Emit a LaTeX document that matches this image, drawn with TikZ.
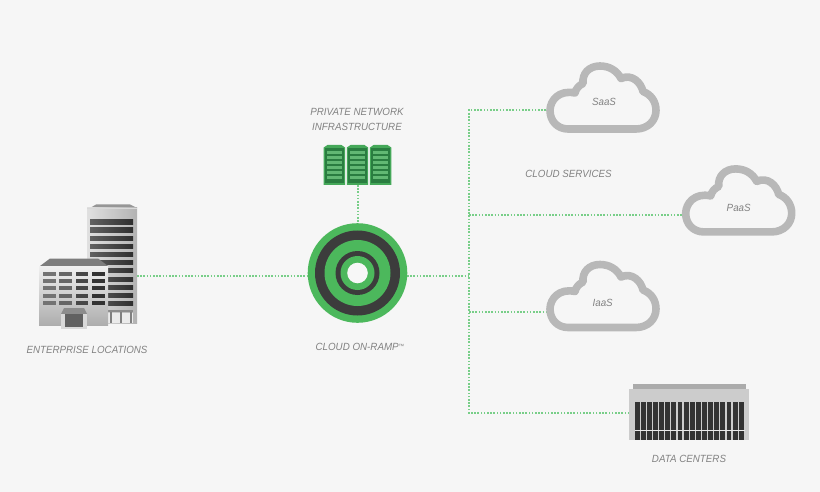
\documentclass[tikz,border=0pt]{standalone}
\usepackage{fontspec}
\setmainfont[FakeStretch=0.94]{Liberation Sans}
\definecolor{bgc}{HTML}{F6F6F6}
\definecolor{lnk}{HTML}{78CE88}
\definecolor{txt}{HTML}{828282}
\definecolor{ringg}{HTML}{4CB85C}
\definecolor{ringd}{HTML}{3C3C3C}
\definecolor{cloudc}{HTML}{B8B8B8}
\definecolor{rackd}{HTML}{2A7D40}
\definecolor{rackm}{HTML}{45A859}
\definecolor{rackl}{HTML}{62B873}
\tikzset{
  x=1pt,y=-1pt,
  lbl/.style={font=\fontsize{10.4}{12}\selectfont\itshape,text=txt,inner sep=0pt,align=center},
  hit/.style={inner sep=0pt,outer sep=0pt,minimum width=#1,minimum height=8pt},
  link/.style={draw=lnk,line width=2pt,dash pattern=on 1.6pt off 1.6pt},
  cloudline/.style={draw=cloudc,line width=7.6pt,line join=round},
  pics/cloudicon/.style={code={
    \draw[cloudline] (-35,31.5) -- (33,31.5)
      .. controls (45,31.5) and (53,23) .. (53,13)
      .. controls (53,4) and (48,-3) .. (40,-6)
      .. controls (38,-15) and (29,-24) .. (18,-19)
      .. controls (14,-27) and (6,-31.5) .. (-3,-31.5)
      .. controls (-14,-31.5) and (-21,-24) .. (-20,-14)
      .. controls (-24,-12) and (-27,-9) .. (-28,-4.5)
      .. controls (-44,-8) and (-53,3) .. (-53,13)
      .. controls (-53,24) and (-45,31.5) .. (-35,31.5) -- cycle;
  }},
  pics/rack/.style={code={
    \fill[rackm] (-10.7,-17.5) -- (-7,-20) -- (7,-20) -- (10.7,-17.5) -- (10.7,20) -- (-10.7,20) -- cycle;
    \fill[rackd] (-9.2,-16.5) rectangle (9.2,18.5);
    \foreach \r in {-13.5,-8.5,-3.5,1.5,6.5,11.5}
      \fill[rackl] (-7.6,\r) rectangle (7.6,\r+3);
  }}
}
\begin{document}
\begin{tikzpicture}
\useasboundingbox (0,0) rectangle (820,492);
\fill[bgc] (0,0) rectangle (820,492);

% anchors for the icons
\node[hit=100pt] (building) at (87,276) {};
\node[hit=62pt] (servers) at (357.5,165) {};
\node[hit=99.6pt,minimum height=99.6pt,circle] (hub) at (357.5,273) {};
\coordinate (hubeast) at (407,276);
\coordinate (hubwest) at (308,276);
\coordinate (hubtop) at (358.3,223);
\coordinate (serverbottom) at (358.3,185);
\coordinate (buildingeast) at (137,276);
\coordinate (bus) at (469,276);
\node[hit=114pt] (saas) at (603,110) {};
\node[hit=114pt] (paas) at (738.7,215) {};
\node[hit=114pt] (iaas) at (603,311.7) {};
\node[hit=120pt] (dc) at (689.3,413) {};

% connectors
\path[link] (buildingeast) -- (hubwest);
\path[link] (serverbottom) -- (hubtop);
\path[link] (hubeast) -- (bus);
\path[link] (saas.west) -| (bus);
\path[link] (dc.west) -| (bus);
\path[link] (bus |- paas.west) -- (paas.west);
\path[link] (bus |- iaas.west) -- (iaas.west);

% building: tower
\fill[fill={rgb,255:red,150;green,150;blue,150}] (90,208) -- (96,204.5) -- (130,204.5) -- (137,208) -- cycle;
\shade[left color=black!12,right color=black!30] (87,208) rectangle (137,323);
\draw[white!85!black,line width=.8pt] (87,208.5) -- (137,208.5);
\foreach \r in {220,228,236,244,252,260.5,268.5,277,285,293,301}
  \shade[left color=black!62,right color=black!82] (90,\r) rectangle (133,\r+4.4);
\fill[white!92!black] (108,313) rectangle (133,323);
\foreach \c in {111,121,131}
  \fill[black!50] (\c-.7,311) rectangle (\c+.7,323);
\fill[black!45] (108,310) rectangle (133,311.5);
% building: low block
\fill[fill={rgb,255:red,125;green,125;blue,125}] (40,266) -- (50,258.5) -- (98,258.5) -- (108,266) -- cycle;
\shade[top color=black!6,bottom color=black!32] (39,266.5) rectangle (108,325);
\foreach \c/\s in {43/55,59/60,75.5/72,92/80}
  \foreach \r in {271.5,278.5,286,293.5,300.5}
    \fill[black!\s] (\c,\r) rectangle (\c+12.5,\r+4);
\fill[black!45] (64,308) -- (84,308) -- (87,314) -- (61,314) -- cycle;
\fill[black!15] (61,314) rectangle (87,329);
\fill[black!62] (65,314) rectangle (83,327);

% hub
\fill[ringg] (357.5,273) circle[radius=49.8];
\fill[ringd] (357.5,273) circle[radius=42.5];
\fill[ringg] (357.5,273) circle[radius=33];
\fill[ringd] (357.5,273) circle[radius=22];
\fill[ringg] (357.5,273) circle[radius=17];
\fill[white!97!black] (357.5,273) circle[radius=10.3];

% servers
\pic at (334.4,165) {rack};
\pic at (357.5,165) {rack};
\pic at (380.6,165) {rack};

% clouds
\pic at (603,97.5) {cloudicon};
\pic at (738.7,200.4) {cloudicon};
\pic at (603,296) {cloudicon};

% data centre
\fill[black!33] (633,384.3) rectangle (745.7,388.7);
\fill[black!20] (629.3,388.7) rectangle (749.3,440.3);
\foreach \i in {0,...,17}
  \fill[black!80] (634.7+\i*6.12,401.7) rectangle (634.7+\i*6.12+4.9,440);
\fill[black!8] (634.7,430) rectangle (744.5,431);

% labels
\node[lbl] (lblent) at (87,350) {ENTERPRISE LOCATIONS};
\node[lbl] (lblpriv) at (357,119.5) {PRIVATE NETWORK\\[2.9pt]INFRASTRUCTURE};
\node[lbl] (lblramp) at (360,347.3) {CLOUD ON-RAMP\raisebox{2.5pt}{\fontsize{6}{6}\selectfont ™}};
\node[lbl] (lblcs) at (568.5,173.7) {CLOUD SERVICES};
\node[lbl] (lbls) at (604,101.5) {SaaS};
\node[lbl] (lblp) at (738.7,207.7) {PaaS};
\node[lbl] (lbli) at (602.7,303.3) {IaaS};
\node[lbl] (lbld) at (689,459) {DATA CENTERS};
\end{tikzpicture}
\end{document}
